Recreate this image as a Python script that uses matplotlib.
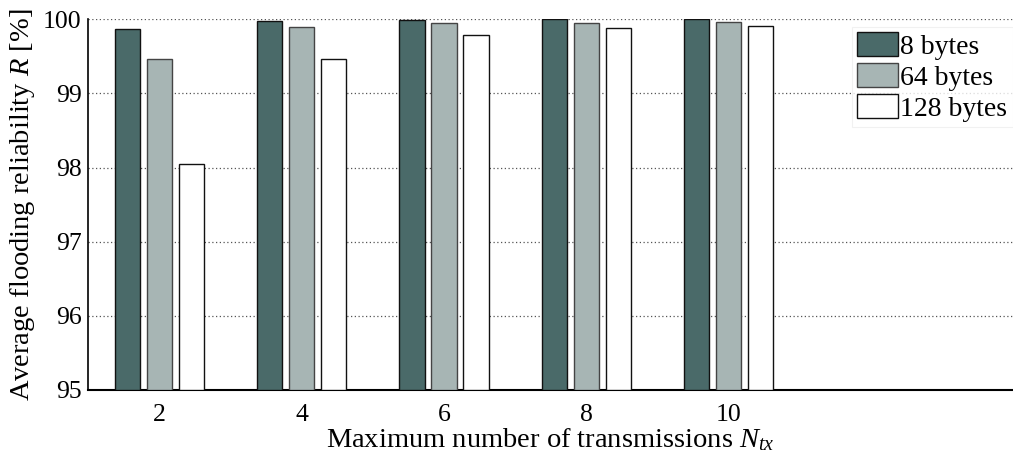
import numpy as np
import matplotlib
matplotlib.use("Agg")
import matplotlib.pyplot as plt

plt.rcParams["font.family"] = ["Liberation Serif", "DejaVu Serif"]
plt.rcParams["mathtext.fontset"] = "custom"
plt.rcParams["mathtext.rm"] = "Liberation Serif"
plt.rcParams["mathtext.it"] = "Liberation Serif:italic"

# data
n_tx = [2, 4, 6, 8, 10]
series = ["8 bytes", "64 bytes", "128 bytes"]
r_8 = [99.873, 99.98, 99.995, 99.998, 99.999]
r_64 = [99.47, 99.90, 99.946, 99.955, 99.968]
r_128 = [98.046, 99.47, 99.79, 99.878, 99.905]

colors = ["#4a6a69", "#a7b5b4", "#ffffff"]
edges = ["#111111", "#444444", "#111111"]

fig = plt.figure(figsize=(10.13, 4.67), dpi=100)
ax = fig.add_axes([0.0872, 0.165, 0.9128, 0.7937])

x = np.array(n_tx, dtype=float)
width = 0.354
offset = 0.45
for i, (vals, lab) in enumerate(zip([r_8, r_64, r_128], series)):
    ax.bar(x + (i - 1) * offset, np.array(vals) - 95, width, bottom=95,
           color=colors[i], edgecolor=edges[i], linewidth=1.0, label=lab, zorder=3)

ax.set_xlim(1, 14)
ax.set_ylim(95, 100)
ax.set_xticks(n_tx)
ax.set_yticks([95, 96, 97, 98, 99, 100])
ax.tick_params(length=0, labelsize=18.5)
ax.tick_params(axis="x", pad=10)
ax.tick_params(axis="y", pad=5)
ax.yaxis.grid(True, linestyle=(0, (1, 2)), color="#555555", linewidth=0.9, zorder=0)

for s in ["top", "right"]:
    ax.spines[s].set_visible(False)
ax.spines["bottom"].set_linewidth(1.5)
ax.spines["left"].set_linewidth(1.2)

ax.set_xlabel("Maximum number of transmissions $N_{tx}$", fontsize=20.5, labelpad=0)
ax.set_ylabel("Average flooding reliability $R$ [%]", fontsize=20.5, labelpad=4)

leg = ax.legend(loc="upper right", bbox_to_anchor=(1.0, 0.98), fontsize=20,
                handlelength=1.45, handleheight=0.95, handletextpad=0.1,
                labelspacing=0.12, borderpad=0.2, fancybox=False,
                borderaxespad=0.0)
leg.get_frame().set_edgecolor("#eeeeee")
leg.get_frame().set_linewidth(0.8)

fig.savefig("out.png", dpi=100)
